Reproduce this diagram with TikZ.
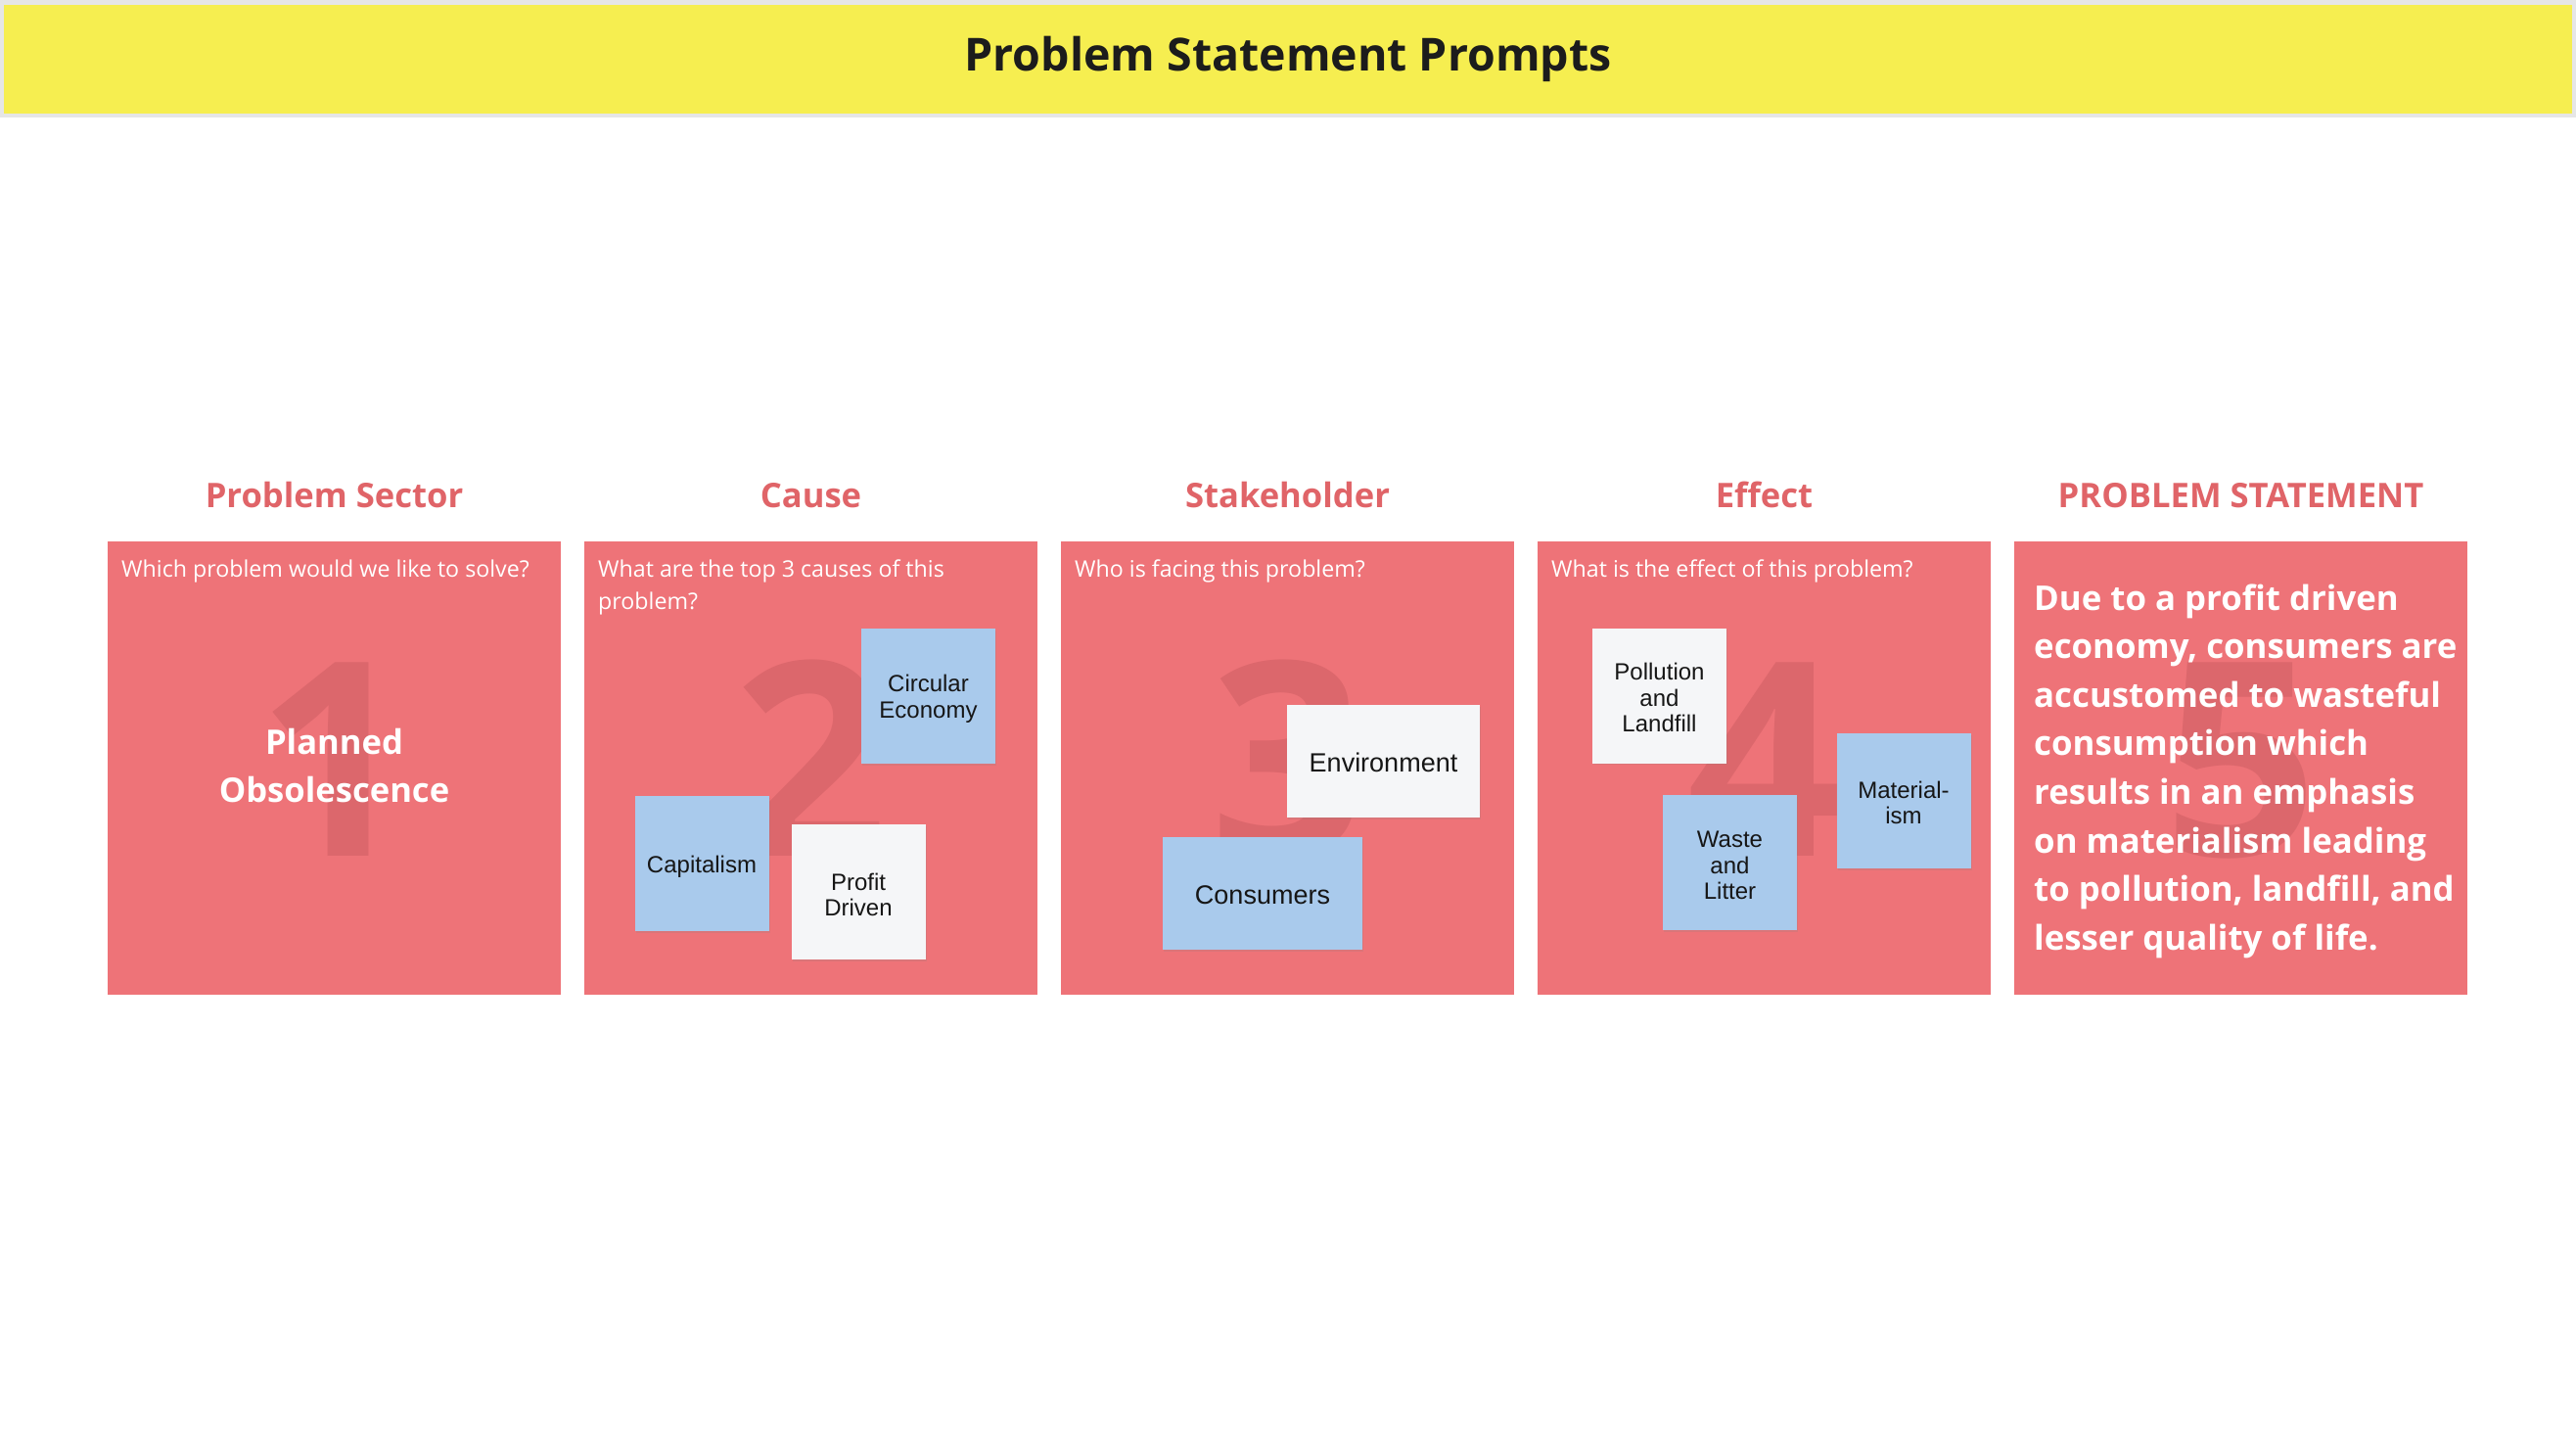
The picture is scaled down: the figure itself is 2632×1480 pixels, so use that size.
\documentclass[tikz,border=0pt]{standalone}
\usepackage{fontspec}
\setmainfont{Open Sans}
\newfontfamily\notefont{Liberation Sans}
\usetikzlibrary{shadows}

\definecolor{panelred}{HTML}{EE7378}
\definecolor{digitred}{HTML}{DC676C}
\definecolor{headred}{HTML}{E06468}
\definecolor{bandyellow}{HTML}{F6EE50}
\definecolor{bandgrey}{HTML}{E6E6E6}
\definecolor{bandink}{HTML}{1C1C1C}
\definecolor{noteblue}{HTML}{A9CAEC}
\definecolor{notewhite}{HTML}{F5F6F8}
\definecolor{noteink}{HTML}{161616}

\newcommand\setfs[2]{\fontsize{#1}{#2}\selectfont}

\begin{document}
\begin{tikzpicture}[x=1pt,y=-1pt,
  panel/.style={fill=panelred, draw=none, inner sep=0pt,
    minimum width=463pt, minimum height=463pt, anchor=north west},
  heading/.style={anchor=base, text=headred, font=\bfseries\setfs{34.6}{42}},
  prompt/.style={anchor=base west, inner sep=0pt, text=white, font=\setfs{23.2}{33}},
  bignum/.style={anchor=base, inner sep=0pt, text=digitred, font=\bfseries\setfs{277}{300}},
  sticky/.style={draw=none, inner sep=0pt,
    drop shadow={shadow xshift=1.2pt, shadow yshift=-1.6pt, opacity=0.18}},
  blue note/.style={sticky, fill=noteblue},
  white note/.style={sticky, fill=notewhite},
  square note/.style={minimum width=137pt, minimum height=138pt},
  wide note/.style={minimum width=#1, minimum height=115pt},
  note text/.style={inner sep=0pt, align=center, text=noteink,
    font=\notefont\setfs{24}{26.5}},
  big note text/.style={note text, font=\notefont\setfs{27}{30}},
]
\useasboundingbox (0,0) rectangle (2632,1480);
\fill[white] (0,0) rectangle (2632,1480);

% title band
\fill[bandgrey] (0,0) rectangle (2632,120);
\fill[bandyellow] (4,5) rectangle (2628,116);
\node[anchor=base, text=bandink, font=\bfseries\setfs{46.5}{55}] (title) at (1316,73)
  {Problem Statement Prompts};

% the five panels
\node[panel] (panel1) at (110,553) {};
\node[panel] (panel2) at (597,553) {};
\node[panel] (panel3) at (1084,553) {};
\node[panel] (panel4) at (1571,553) {};
\node[panel] (panel5) at (2058,553) {};

% column headings
\node[heading] (head1) at (341.5,518) {Problem Sector};
\node[heading] (head2) at (828.5,518) {Cause};
\node[heading] (head3) at (1315.5,518) {Stakeholder};
\node[heading] (head4) at (1802.5,518) {Effect};
\node[heading] (head5) at (2289.5,518) {PROBLEM STATEMENT};

% large step numbers behind the content
\node[bignum] (num1) at (341.5,874) {1};
\node[bignum] (num2) at (828.5,874) {2};
\node[bignum] (num3) at (1315.5,874) {3};
\node[bignum] (num4) at (1802.5,874) {4};
\node[bignum] (num5) at (2289.5,874) {5};

% guiding questions
\node[prompt] (q1) at (124,589) {Which problem would we like to solve?};
\node[prompt] (q2) at (611,589)
  {\parbox[t]{430pt}{\raggedright What are the top 3 causes of this\\problem?}};
\node[prompt] (q3) at (1098,589) {Who is facing this problem?};
\node[prompt] (q4) at (1585,589) {What is the effect of this problem?};

% problem sector answer
\node[align=center, text=white, font=\bfseries\setfs{34.6}{49}] (sector) at (341.5,782)
  {Planned\\Obsolescence};

% cause notes
\node[blue note, square note] (circular) at (948.5,711) {};
\node[note text] (circular text) at ([yshift=-3pt]circular.center) {Circular\\Economy};
\node[blue note, square note] (capital) at (717,882) {};
\node[note text] (capital text) at ([yshift=-3pt]capital.center) {Capitalism};
\node[white note, square note] (profit) at (877,911) {};
\node[note text] (profit text) at ([yshift=-3pt]profit.center) {Profit\\Driven};

% stakeholder notes
\node[white note, wide note=197pt] (environment) at (1413.5,777.5) {};
\node[big note text] (environment text) at ([yshift=-1pt]environment.center) {Environment};
\node[blue note, wide note=204pt] (consumers) at (1290,912.5) {};
\node[big note text] (consumers text) at ([yshift=-2pt]consumers.center) {Consumers};

% effect notes
\node[white note, square note] (pollution) at (1695.5,710.5) {};
\node[note text] (pollution text) at ([yshift=-2pt]pollution.center) {Pollution\\and\\Landfill};
\node[blue note, square note] (waste) at (1767.5,881) {};
\node[note text] (waste text) at ([yshift=-3pt]waste.center) {Waste\\and\\Litter};
\node[blue note, square note] (material) at (1945,818) {};
\node[note text] (material text) at ([yshift=-2pt]material.center) {Material-\\ism};

% problem statement
\node[anchor=base west, inner sep=0pt, text=white] (statement) at (2078,623)
  {\parbox[t]{460pt}{\raggedright\bfseries\setfs{34.8}{49.6}%
    Due to a profit driven\\
    economy, consumers are\\
    accustomed to wasteful\\
    consumption which\\
    results in an emphasis\\
    on materialism leading\\
    to pollution, landfill, and\\
    lesser quality of life.}};
\end{tikzpicture}
\end{document}
